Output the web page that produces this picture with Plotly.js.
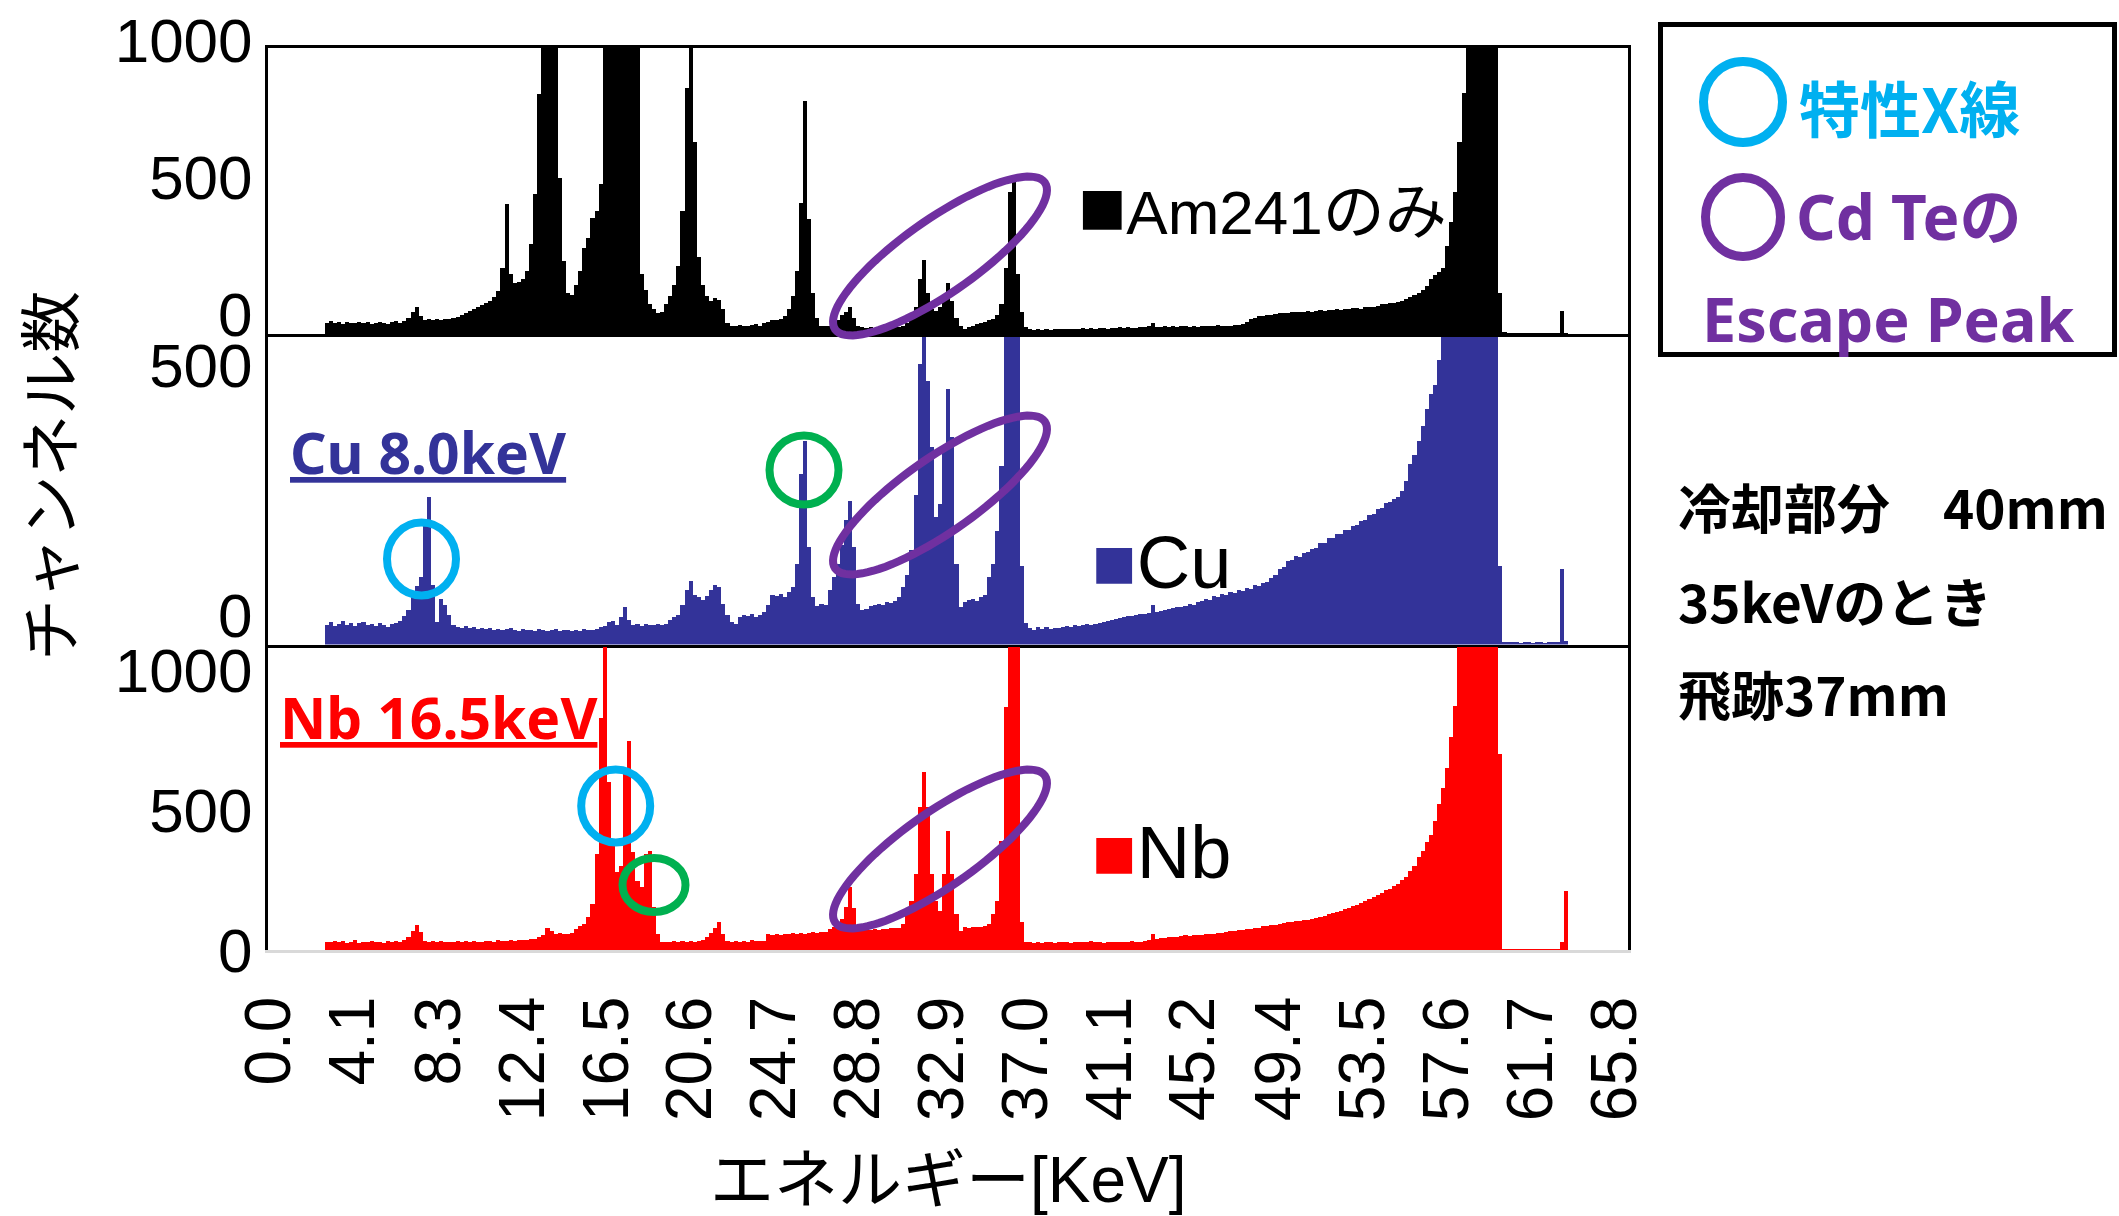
<!DOCTYPE html>
<html><head><meta charset="utf-8">
<script src="https://cdn.plot.ly/plotly-3.0.1.min.js"></script>
<style>html,body{margin:0;padding:0;background:#fff;}#chart{width:2119px;height:1216px;}</style>
</head><body><div id="chart"></div>
<script>
// ---------------- DATA ----------------
// energy grid: first bin centre and bin width [keV]
const E_START = 2.8;
const BIN_WIDTH = 0.2;

// counts per 0.2 keV bin, 2.8 ... 63.6 keV (10 bins per row = 2 keV)
const am241 = [
 42,46,40,44,38,45,41,39,44,40,
 43,38,42,45,40,38,44,47,42,48,
 60,80,99,65,52,56,50,55,52,54,
 56,58,62,70,78,85,92,98,105,112,
 120,135,156,240,476,220,185,190,200,230,
 330,510,877,2600,3200,3400,2200,571,266,150,
 144,180,230,315,352,425,449,547,2500,3500,
 4000,3800,3600,3900,4200,3500,1800,220,160,110,
 90,75,80,110,140,180,250,450,900,1600,
 700,280,180,140,120,130,125,90,40,28,
 30,32,28,30,33,35,30,40,45,50,
 50,55,65,90,140,230,480,850,420,150,
 60,30,28,30,35,50,70,80,100,60,
 30,24,22,25,21,23,20,24,22,25,
 26,30,40,60,100,200,272,150,90,85,
 100,130,187,120,60,30,20,25,30,35,
 40,45,50,55,70,110,240,520,571,220,
 80,25,18,16,17,15,18,16,17,18,
 17,19,18,20,18,21,19,22,20,21,
 22,20,23,21,24,22,25,23,22,26,
 24,28,40,27,25,28,26,30,27,29,
 28,26,30,27,29,31,28,30,32,29,
 31,30,33,34,38,45,55,60,64,66,
 68,70,73,75,77,78,80,79,82,80,
 84,82,85,86,84,88,87,90,89,92,
 90,94,95,93,97,100,98,104,108,110,
 113,115,118,122,128,135,142,150,160,175,
 200,215,225,240,320,410,520,700,880,1100,
 5000,7000,8000,8500,7000,4000,2000,150,8,3,
 3,2,3,3,2,3,2,3,3,2,
 3,4,83,4,0
];

const cu = [
 40,45,38,42,47,40,44,38,43,46,
 39,42,37,44,40,36,41,44,48,58,
 70,95,118,135,240,295,120,45,91,80,
 60,40,36,34,37,33,35,32,34,31,
 33,30,32,29,31,33,30,28,31,29,
 30,28,31,29,27,30,32,28,30,29,
 27,30,28,31,29,30,32,35,38,45,
 48,40,55,75,50,40,41,38,42,40,
 39,41,40,42,50,55,60,80,110,128,
 100,95,90,98,110,119,115,81,60,45,
 41,55,60,58,62,55,60,65,80,100,
 98,102,95,105,115,161,341,408,195,95,
 78,82,80,110,135,161,200,250,287,195,
 81,70,72,78,80,82,80,85,83,88,
 95,115,140,190,300,561,650,528,395,255,
 281,395,511,415,161,75,85,90,92,88,
 95,100,135,161,228,357,1400,1800,1500,900,
 157,43,33,30,35,32,36,31,34,33,
 35,37,36,39,38,40,42,39,41,43,
 45,48,50,52,54,55,57,58,60,61,
 62,64,80,66,68,70,72,73,75,76,
 78,82,80,86,88,92,90,97,95,101,
 100,106,103,110,108,114,112,120,117,124,
 125,134,140,152,156,167,170,178,176,184,
 185,192,194,203,204,213,214,221,222,229,
 230,237,239,248,250,260,262,272,274,284,
 285,292,296,307,328,362,380,407,438,472,
 502,520,570,1500,2200,3000,4000,5000,6000,7000,
 7500,8000,8500,8800,8000,6000,3000,157,5,5,
 5,5,4,5,5,4,5,5,4,5,
 5,6,151,8,0
];

const nb = [
 30,28,33,27,31,25,29,34,26,30,
 28,32,27,30,26,31,29,33,28,35,
 45,69,90,63,33,30,32,28,31,29,
 30,27,32,29,31,28,33,30,29,31,
 32,30,34,31,33,35,32,36,34,37,
 38,40,45,55,79,69,57,60,57,58,
 62,75,87,93,117,164,343,830,2500,600,
 380,280,300,650,747,350,247,224,343,355,
 152,57,27,30,28,32,29,31,30,33,
 30,32,35,45,60,80,101,57,33,30,
 32,29,33,30,34,31,33,32,57,55,
 57,55,58,56,59,57,60,58,61,63,
 62,64,63,75,81,93,110,152,224,150,
 81,69,72,70,75,73,76,74,78,77,
 80,93,128,176,271,509,634,509,271,176,
 140,271,426,271,128,69,81,80,82,81,
 83,85,93,128,176,390,866,2500,3000,1500,
 100,30,27,25,28,26,29,27,25,28,
 27,29,26,28,30,27,29,31,28,30,
 26,28,27,29,28,30,29,31,28,30,
 32,36,57,40,42,44,45,47,48,50,
 52,51,54,53,55,56,58,57,60,62,
 64,67,68,71,72,75,76,79,80,84,
 86,89,91,94,96,99,100,103,104,107,
 108,112,114,119,122,127,131,137,141,147,
 150,156,161,168,174,182,188,197,204,213,
 218,227,235,249,262,281,300,331,355,386,
 410,460,520,580,650,760,870,1100,2500,4000,
 5500,7000,8000,8500,8800,8000,6000,700,3,3,
 3,2,3,3,2,3,3,2,3,3,
 3,3,30,209,0
];

const seriesNames = ["Am241のみ", "Cu", "Nb"];
const xTickLabels = ["0.0","4.1","8.3","12.4","16.5","20.6","24.7","28.8","32.9","37.0","41.1","45.2","49.4","53.5","57.6","61.7","65.8"];
const yTicksTop = [0, 500, 1000];
const yTicksMid = [0, 500];
const yTicksBot = [0, 500, 1000];

// ---------------- LAYOUT ----------------
const W = 2119, H = 1216;
const L = 268, R = 1628, T = 48, B = 950;       // plot area in px
const PX = x => (x - L) / (R - L);
const PY = y => (B - y) / (B - T);
const panels = [[48, 334], [337, 644.5], [647, 950]];
const dom = p => [PY(p[1]), PY(p[0])];

const energies = am241.map((_, i) => +(E_START + i * BIN_WIDTH).toFixed(1));
const colors = ["#000000", "#333399", "#ff0000"];
const traces = [am241, cu, nb].map((v, i) => ({
  type: "bar", x: energies, y: v, width: BIN_WIDTH, name: seriesNames[i],
  xaxis: i ? "x" + (i + 1) : "x", yaxis: i ? "y" + (i + 1) : "y",
  marker: { color: colors[i], line: { width: 0 } }, hoverinfo: "skip"
}));

const xBase = { range: [-0.07, 66.44], showgrid: false, zeroline: false, showline: true,
  linecolor: "#000", linewidth: 3, mirror: true, ticks: "", showticklabels: false };
const yBase = { showgrid: false, zeroline: false, showline: true, linecolor: "#000",
  linewidth: 3, mirror: true, ticks: "", tickmode: "array",
  tickfont: { family: "Liberation Sans, Arial", size: 62, color: "#000" }, ticklabelstandoff: 0 };

function circ(cx, cy, rx, ry, color, w) {
  return { type: "circle", xref: "paper", yref: "paper", x0: PX(cx - rx), x1: PX(cx + rx),
    y0: PY(cy + ry), y1: PY(cy - ry), line: { color, width: w } };
}
function tilted(cx, cy, a, b, deg, color, w) {
  const t = deg * Math.PI / 180; let d = "";
  for (let k = 0; k <= 90; k++) {
    const p = 2 * Math.PI * k / 90, ex = a * Math.cos(p), ey = b * Math.sin(p);
    const xx = cx + ex * Math.cos(t) + ey * Math.sin(t);
    const yy = cy - ex * Math.sin(t) + ey * Math.cos(t);
    d += (k ? "L" : "M") + PX(xx).toFixed(5) + "," + PY(yy).toFixed(5);
  }
  return { type: "path", xref: "paper", yref: "paper", path: d + "Z", line: { color, width: w } };
}
const PURPLE = "#7030A0", CYAN = "#00B0F0", GREEN = "#00B050";
const shapes = [
  tilted(940, 256, 128, 37, 35, PURPLE, 8),
  tilted(940, 495, 128, 37, 35, PURPLE, 8),
  tilted(940, 849, 128, 37, 35, PURPLE, 8),
  circ(421.5, 559, 34.5, 36.5, CYAN, 8),
  circ(804, 470, 34.5, 34.5, GREEN, 8),
  circ(615.7, 806, 34.5, 36.5, CYAN, 8),
  circ(654, 885, 31.5, 27, GREEN, 8),
  { type: "rect", xref: "paper", yref: "paper", x0: PX(1660.5), x1: PX(2114.5), y0: PY(354.5), y1: PY(24.5),
    line: { color: "#000", width: 5 }, fillcolor: "rgba(0,0,0,0)" },
  circ(1743, 102, 39.5, 40.5, CYAN, 9),
  circ(1743, 217, 37.5, 39.5, PURPLE, 9)
];

function ann(text, x, y, font, extra) {
  return Object.assign({ xref: "paper", yref: "paper", x: PX(x), y: PY(y), xanchor: "left", yanchor: "middle",
    showarrow: false, text, font }, extra || {});
}
const JP = "Noto Sans CJK JP";
const annotations = [
  ann('<span style="font-size:80px">■</span>' + seriesNames[0], 1076, 206, { family: "Liberation Sans, " + JP, size: 62, color: "#000" }),
  ann('<span style="color:#333399">■</span>' + seriesNames[1], 1090, 562, { family: "Liberation Sans, " + JP, size: 74, color: "#000" }),
  ann('<span style="color:#ff0000">■</span>' + seriesNames[2], 1090, 852, { family: "Liberation Sans, " + JP, size: 74, color: "#000" }),
  ann("Cu 8.0keV", 288, 452, { family: "Noto Sans, " + JP, size: 57, color: "#333399", weight: 700, lineposition: "under" }),
  ann("Nb 16.5keV", 278, 717, { family: "Noto Sans, " + JP, size: 57, color: "#ff0000", weight: 700, lineposition: "under" }),
  ann("特性X線", 1797, 106, { family: JP, size: 61, color: CYAN, weight: 700 }),
  ann("Cd Teの", 1794, 216, { family: "Noto Sans, " + JP, size: 62, color: PURPLE, weight: 700 }),
  ann("Escape Peak", 1700, 318, { family: "Noto Sans, " + JP, size: 61, color: PURPLE, weight: 700 }),
  ann("冷却部分　40mm", 1676, 506, { family: JP, size: 53, color: "#000", weight: 700 }),
  ann("35keVのとき", 1676, 600, { family: JP, size: 53, color: "#000", weight: 700 }),
  ann("飛跡37mm", 1676, 693, { family: JP, size: 53, color: "#000", weight: 700 }),
  ann("エネルギー[KeV]", 948, 1180, { family: "Liberation Sans, " + JP, size: 64, color: "#000" }, { xanchor: "center" }),
  ann("チャンネル数", 47, 476, { family: JP, size: 62, color: "#000" }, { xanchor: "center", textangle: -90 })
];

const layout = {
  width: W, height: H, autosize: false, showlegend: false, bargap: 0,
  paper_bgcolor: "#fff", plot_bgcolor: "#fff",
  margin: { l: L, r: W - R, t: T, b: H - B, pad: 0 },
  xaxis: Object.assign({}, xBase, { anchor: "y" }),
  xaxis2: Object.assign({}, xBase, { anchor: "y2" }),
  xaxis3: Object.assign({}, xBase, { anchor: "y3", mirror: false, linecolor: "#d9d9d9",
    showticklabels: true, tickmode: "array", tickvals: xTickLabels.map(Number), ticktext: xTickLabels,
    tickangle: -90, ticklabelstandoff: 18,
    tickfont: { family: "Liberation Sans, Arial", size: 64, color: "#000" } }),
  yaxis: Object.assign({}, yBase, { domain: dom(panels[0]), anchor: "x", range: [0, 1045],
    tickvals: yTicksTop, ticktext: yTicksTop.map(String), ticklabelshift: -20 }),
  yaxis2: Object.assign({}, yBase, { domain: dom(panels[1]), anchor: "x2", range: [0, 615],
    tickvals: yTicksMid, ticktext: yTicksMid.map(String), ticklabelshift: -29 }),
  yaxis3: Object.assign({}, yBase, { domain: dom(panels[2]), anchor: "x3", range: [0, 1082],
    tickvals: yTicksBot, ticktext: yTicksBot.map(String) }),
  shapes, annotations
};

Plotly.newPlot("chart", traces, layout, { staticPlot: true, displayModeBar: false });
</script></body></html>
